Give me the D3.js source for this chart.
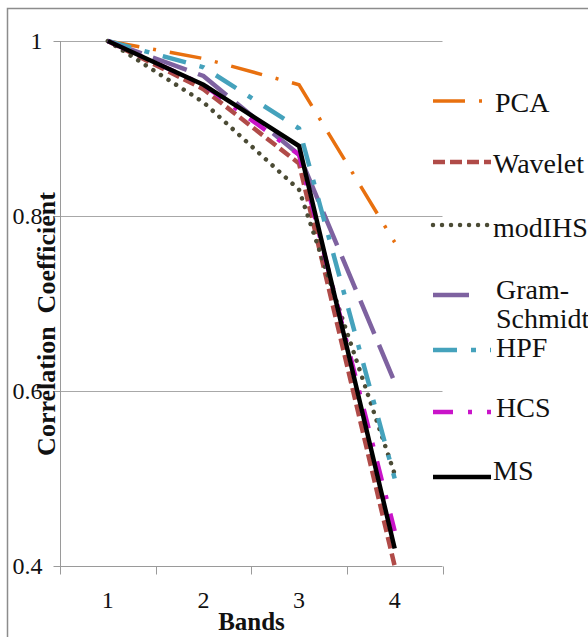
<!DOCTYPE html>
<html>
<head>
<meta charset="utf-8">
<script src="https://cdn.jsdelivr.net/npm/d3@7"></script>
<style>
  html, body { margin: 0; padding: 0; background: #fff; }
  svg { display: block; }
</style>
</head>
<body>
<svg id="chart" width="588" height="637"></svg>
<script>
// ---- data ----
const bands = [1, 2, 3, 4];
const yTicks = [0.4, 0.6, 0.8, 1];
const seriesNames = ["PCA", "Wavelet", "modIHS", "Gram-Schmidt", "HPF", "HCS", "MS"];
const pca         = [1, 0.98, 0.95, 0.77];
const wavelet     = [1, 0.945, 0.86, 0.40];
const modIHS      = [1, 0.93, 0.83, 0.505];
const gramSchmidt = [1, 0.96, 0.87, 0.61];
const hpf         = [1, 0.97, 0.90, 0.50];
const hcs         = [1, 0.95, 0.87, 0.44];
const ms          = [1, 0.95, 0.88, 0.42];
const seriesValues = [pca, wavelet, modIHS, gramSchmidt, hpf, hcs, ms];

(function () {
// ---- styles ----
const styles = [
  { color: "#E8700F", width: 3.5, dash: "32,14,3,14", cap: "butt" },
  { color: "#B04B48", width: 4.5, dash: "12,5", cap: "butt" },
  { color: "#4B4B35", width: 4.5, dash: "0.01,9", cap: "round" },
  { color: "#7E62A0", width: 4.5, dash: "36,12", cap: "butt" },
  { color: "#45A2BC", width: 4.5, dash: "24,14,5,14", cap: "butt" },
  { color: "#C914C9", width: 4.5, dash: "20,15,4,15", cap: "butt" },
  { color: "#000000", width: 4.5, dash: null, cap: "butt" }
];

const svg = d3.select("#chart");
const font = "'Liberation Serif', 'Times New Roman', serif";

// outer border
svg.append("rect")
  .attr("x", 7.5).attr("y", 8.5).attr("width", 700).attr("height", 700)
  .attr("fill", "none").attr("stroke", "#8c8c8c").attr("stroke-width", 1.5);

const pLeft = 60, pRight = 442.5, pTop = 41, pBottom = 566;
const x = d3.scaleBand().domain(bands).range([pLeft, pRight]).padding(0);
const y = d3.scaleLinear().domain([0.4, 1]).range([pBottom, pTop]);

// gridlines
svg.append("g").selectAll("line").data(yTicks.filter(v => v > 0.4)).join("line")
  .attr("x1", pLeft).attr("x2", pRight)
  .attr("y1", d => Math.round(y(d)) + 0.5).attr("y2", d => Math.round(y(d)) + 0.5)
  .attr("stroke", "#a8a8a8").attr("stroke-width", 1);

// y axis
const yAxis = d3.axisLeft(y).tickValues(yTicks).tickSize(7).tickPadding(11)
  .tickFormat(d => d === 1 ? "1" : d3.format(".1f")(d));
const gy = svg.append("g").attr("transform", `translate(${pLeft + 0.5},0)`).call(yAxis);
gy.select(".domain").attr("stroke", "#9a9a9a").attr("d", `M0,${pTop}V${pBottom}`);
gy.selectAll(".tick line").attr("stroke", "#9a9a9a");
gy.selectAll(".tick text").attr("font-family", font).attr("font-size", 24).attr("fill", "#111");

// x axis
const xAxis = d3.axisBottom(x).tickSize(0).tickPadding(24);
const gx = svg.append("g").attr("transform", `translate(0,${pBottom + 0.5})`).call(xAxis);
gx.select(".domain").attr("stroke", "#9a9a9a").attr("d", `M${pLeft},0H${pRight}`);
gx.selectAll(".tick text").attr("font-family", font).attr("font-size", 24).attr("fill", "#111");
// boundary ticks between categories
const bounds = bands.map(b => x(b)).concat([x(bands[bands.length - 1]) + x.bandwidth()]);
gx.append("g").selectAll("line").data(bounds).join("line")
  .attr("x1", d => Math.round(d) + 0.5).attr("x2", d => Math.round(d) + 0.5)
  .attr("y1", 0).attr("y2", 8).attr("stroke", "#9a9a9a");

// axis titles
svg.append("text").attr("x", 251.5).attr("y", 630)
  .attr("text-anchor", "middle").attr("font-family", font).attr("font-size", 25)
  .attr("font-weight", "bold").attr("fill", "#111").text("Bands");
svg.append("text").attr("transform", "translate(55,324) rotate(-90)")
  .attr("text-anchor", "middle").attr("font-family", font).attr("font-size", 26)
  .attr("font-weight", "bold").attr("fill", "#111")
  .style("white-space", "pre").text("Correlation  Coefficient");

// lines
const line = d3.line().x((d, i) => x(bands[i]) + x.bandwidth() / 2).y(d => y(d));
seriesValues.forEach((vals, i) => {
  const s = styles[i];
  svg.append("path").datum(vals)
    .attr("d", line).attr("fill", "none")
    .attr("stroke", s.color).attr("stroke-width", s.width)
    .attr("stroke-linecap", s.cap).attr("stroke-linejoin", "miter")
    .attr("stroke-dasharray", s.dash);
});

// legend
const legendSampleY = [101, 162, 225, 295, 350, 412, 477];
const legendTextY   = [[112], [173], [237], [299, 328], [357], [417], [480]];
const legendTextX   = [495, 493, 493, 496, 496, 496, 493];
const legendLabels  = [["PCA"], ["Wavelet"], ["modIHS"], ["Gram-", "Schmidt"], ["HPF"], ["HCS"], ["MS"]];
const ends = [491, 491, 491, 474, 491, 491, 491];
const lg = svg.append("g");
seriesNames.forEach((name, i) => {
  const s = styles[i];
  lg.append("line")
    .attr("x1", 433).attr("x2", ends[i])
    .attr("y1", legendSampleY[i]).attr("y2", legendSampleY[i])
    .attr("stroke", s.color).attr("stroke-width", s.width)
    .attr("stroke-linecap", s.cap)
    .attr("stroke-dasharray", s.dash);
  legendLabels[i].forEach((t, j) => {
    lg.append("text").attr("x", legendTextX[i]).attr("y", legendTextY[i][j])
      .attr("font-family", font).attr("font-size", 28).attr("fill", "#111").text(t);
  });
});
})();
</script>
</body>
</html>
